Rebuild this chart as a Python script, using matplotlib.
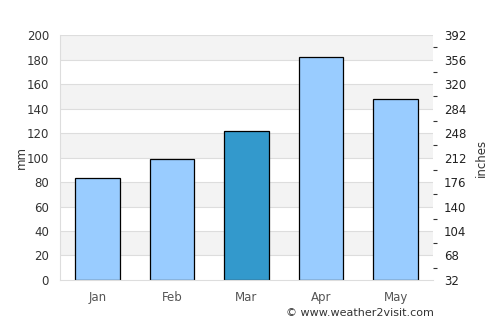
import matplotlib
matplotlib.use("Agg")
import matplotlib.pyplot as plt
from matplotlib.ticker import MultipleLocator, FixedLocator

months = ["Jan", "Feb", "Mar", "Apr", "May"]
rain_mm = [83, 99, 122, 182, 148]
highlight = "Mar"
right_ticks = [32, 68, 104, 140, 176, 212, 248, 284, 320, 356, 392]

fig = plt.figure(figsize=(5, 3.25), dpi=100)
ax = fig.add_axes([0.12, 0.1385, 0.746, 0.7535])

# alternating background bands
for lo in range(20, 200, 40):
    ax.axhspan(lo, lo + 20, color="#f3f3f3", zorder=0, lw=0)
for y in range(20, 201, 20):
    ax.axhline(y, color="#dddddd", lw=0.8, zorder=0.5)

colors = ["#3399cc" if m == highlight else "#99ccff" for m in months]
ax.bar(months, rain_mm, width=0.6, color=colors, edgecolor="black", lw=0.9, zorder=2)

ax.set_ylim(0, 200)
ax.set_xlim(-0.5, 4.5)
ax.yaxis.set_major_locator(MultipleLocator(20))
ax.tick_params(axis="y", length=0, labelsize=8.5, labelcolor="#333333", pad=8)
ax.tick_params(axis="x", length=0, labelsize=8.5, labelcolor="#555555", pad=8)
for s in ["top", "right"]:
    ax.spines[s].set_visible(False)
for s in ["left", "bottom"]:
    ax.spines[s].set_color("#dddddd")
ax.set_ylabel("mm", fontsize=8.5, color="#333333", labelpad=-1)

ax2 = ax.twinx()
ax2.set_ylim(right_ticks[0], right_ticks[-1])
ax2.yaxis.set_major_locator(FixedLocator(right_ticks))
ax2.yaxis.set_minor_locator(FixedLocator(
    [v + 18 for v in right_ticks[:-1]] + right_ticks[1:-1]))
for s in ax2.spines.values():
    s.set_visible(False)
ax2.tick_params(axis="y", which="major", length=0, labelsize=8.5, labelcolor="#222222", pad=8)
ax2.tick_params(axis="y", which="minor", length=3, width=0.8, color="#333333")
ax2.set_ylabel("inches", fontsize=8.5, color="#333333", labelpad=6)

fig.text(0.868, 0.037, "\u00a9 www.weather2visit.com", ha="right", va="center",
         fontsize=8, color="#333333")

fig.savefig("out.png", dpi=100)
